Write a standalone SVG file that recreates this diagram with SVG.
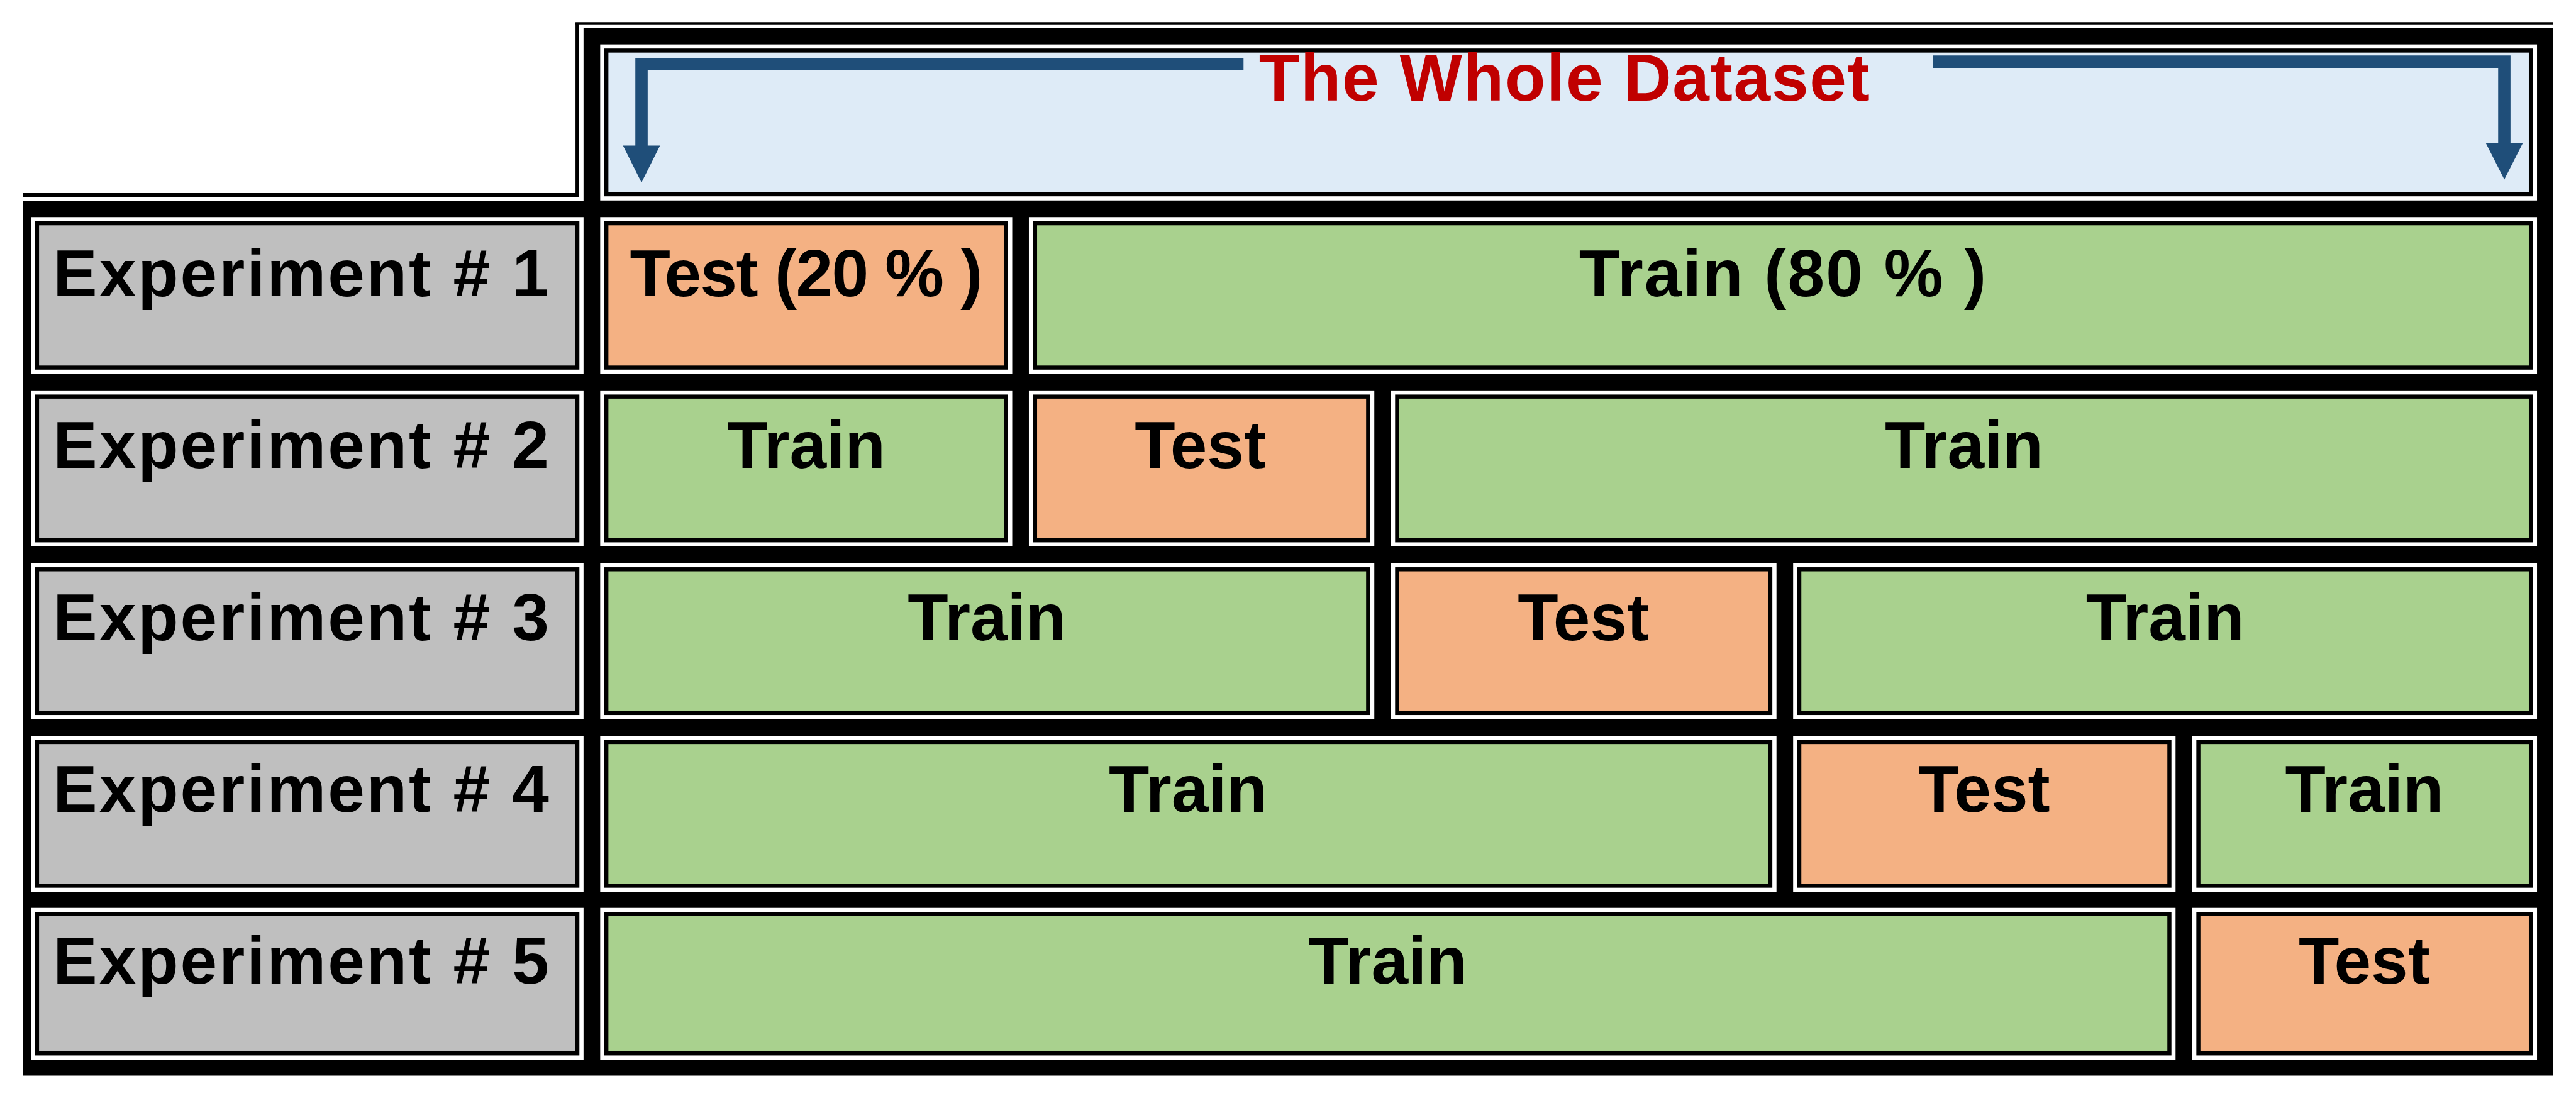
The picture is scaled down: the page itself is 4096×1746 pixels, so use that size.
<svg xmlns="http://www.w3.org/2000/svg" width="4096" height="1746" viewBox="0 0 4096 1746">
<style>
.o{fill:#fff}
.in{stroke:#000;stroke-width:6.6}
.gray{fill:#BFBFBF}
.test{fill:#F4B183}
.train{fill:#A9D18E}
.blue{fill:#DEEBF7}
.t{font-family:"Liberation Sans",Arial,sans-serif;font-weight:bold;font-size:107.5px;fill:#000;text-anchor:middle}
.lbl{text-anchor:start}
.title{fill:#C00000}
.arrow{fill:#1F4E79}
</style>
<rect width="4096" height="1746" fill="#fff"/>
<g transform="scale(0.9808)">
<g id="frame">
<polygon points="946,46 4139,46 4139,1744 37,1744 37,326 946,326" fill="#000"/>
<path d="M37,316 H936 V37" fill="none" stroke="#000" stroke-width="6"/>
<path d="M933,37.8 H4139" fill="none" stroke="#000" stroke-width="3.6"/>
</g>
<g id="dataset">
<rect class="o" x="973" y="72" width="3140" height="253"/>
<rect class="in blue" x="983" y="82" width="3120" height="233"/>
<text class="t title" x="2536" y="163" textLength="990" lengthAdjust="spacing">The Whole Dataset</text>
</g>
<g id="connectors">
<path class="arrow" d="M2016,94 H1030 V236 H1010 L1040,296 L1070,236 H1050 V114 H2016 Z"/>
<path class="arrow" d="M3134,90 H4070 V232 H4090 L4060,291 L4030,232 H4050 V110 H3134 Z"/>
</g>
<!-- Row 1 -->
<g id="exp1">
<rect class="o" x="50" y="352" width="896" height="254"/>
<rect class="in gray" x="60" y="362" width="876" height="234"/>
<text class="t lbl" x="86" y="480" textLength="804" lengthAdjust="spacing">Experiment # 1</text>
</g>
<g id="exp1-test">
<rect class="o" x="973" y="352" width="668" height="254"/>
<rect class="in test" x="983" y="362" width="648" height="234"/>
<text class="t" x="1307" y="480" textLength="572" lengthAdjust="spacing">Test (20 % )</text>
</g>
<g id="exp1-train">
<rect class="o" x="1668" y="352" width="2445" height="254"/>
<rect class="in train" x="1678" y="362" width="2425" height="234"/>
<text class="t" x="2890" y="480" textLength="660" lengthAdjust="spacing">Train (80 % )</text>
</g>
<!-- Row 2 -->
<g id="exp2">
<rect class="o" x="50" y="633" width="896" height="253"/>
<rect class="in gray" x="60" y="643" width="876" height="233"/>
<text class="t lbl" x="86" y="759" textLength="804" lengthAdjust="spacing">Experiment # 2</text>
</g>
<g id="exp2-train-a">
<rect class="o" x="973" y="633" width="668" height="253"/>
<rect class="in train" x="983" y="643" width="648" height="233"/>
<text class="t" x="1307" y="759">Train</text>
</g>
<g id="exp2-test">
<rect class="o" x="1668" y="633" width="560" height="253"/>
<rect class="in test" x="1678" y="643" width="540" height="233"/>
<text class="t" x="1946" y="759">Test</text>
</g>
<g id="exp2-train-b">
<rect class="o" x="2255" y="633" width="1858" height="253"/>
<rect class="in train" x="2265" y="643" width="1838" height="233"/>
<text class="t" x="3184" y="759">Train</text>
</g>
<!-- Row 3 -->
<g id="exp3">
<rect class="o" x="50" y="913" width="896" height="253"/>
<rect class="in gray" x="60" y="923" width="876" height="233"/>
<text class="t lbl" x="86" y="1038" textLength="804" lengthAdjust="spacing">Experiment # 3</text>
</g>
<g id="exp3-train-a">
<rect class="o" x="973" y="913" width="1255" height="253"/>
<rect class="in train" x="983" y="923" width="1235" height="233"/>
<text class="t" x="1600" y="1038">Train</text>
</g>
<g id="exp3-test">
<rect class="o" x="2255" y="913" width="625" height="253"/>
<rect class="in test" x="2265" y="923" width="605" height="233"/>
<text class="t" x="2567" y="1038">Test</text>
</g>
<g id="exp3-train-b">
<rect class="o" x="2907" y="913" width="1206" height="253"/>
<rect class="in train" x="2917" y="923" width="1186" height="233"/>
<text class="t" x="3510" y="1038">Train</text>
</g>
<!-- Row 4 -->
<g id="exp4">
<rect class="o" x="50" y="1193" width="896" height="253"/>
<rect class="in gray" x="60" y="1203" width="876" height="233"/>
<text class="t lbl" x="86" y="1316" textLength="804" lengthAdjust="spacing">Experiment # 4</text>
</g>
<g id="exp4-train-a">
<rect class="o" x="973" y="1193" width="1907" height="253"/>
<rect class="in train" x="983" y="1203" width="1887" height="233"/>
<text class="t" x="1926" y="1316">Train</text>
</g>
<g id="exp4-test">
<rect class="o" x="2907" y="1193" width="620" height="253"/>
<rect class="in test" x="2917" y="1203" width="600" height="233"/>
<text class="t" x="3217" y="1316">Test</text>
</g>
<g id="exp4-train-b">
<rect class="o" x="3554" y="1193" width="559" height="253"/>
<rect class="in train" x="3564" y="1203" width="539" height="233"/>
<text class="t" x="3833" y="1316">Train</text>
</g>
<!-- Row 5 -->
<g id="exp5">
<rect class="o" x="50" y="1472" width="896" height="246"/>
<rect class="in gray" x="60" y="1482" width="876" height="226"/>
<text class="t lbl" x="86" y="1595" textLength="804" lengthAdjust="spacing">Experiment # 5</text>
</g>
<g id="exp5-train">
<rect class="o" x="973" y="1472" width="2554" height="246"/>
<rect class="in train" x="983" y="1482" width="2534" height="226"/>
<text class="t" x="2250" y="1595">Train</text>
</g>
<g id="exp5-test">
<rect class="o" x="3554" y="1472" width="559" height="246"/>
<rect class="in test" x="3564" y="1482" width="539" height="226"/>
<text class="t" x="3833" y="1595">Test</text>
</g>
</g>
</svg>
